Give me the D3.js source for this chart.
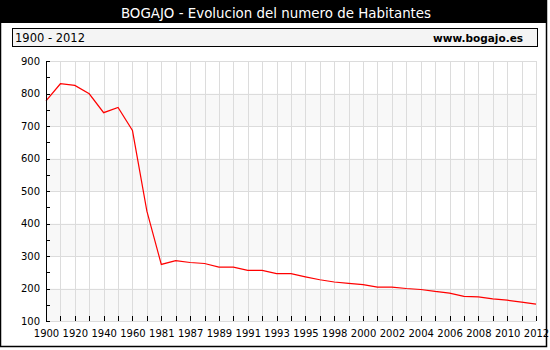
<!DOCTYPE html>
<html>
<head>
<meta charset="utf-8">
<script src="https://cdn.jsdelivr.net/npm/d3@7/dist/d3.min.js"></script>
<style>
  html, body { margin: 0; padding: 0; background: #fff; }
  svg { display: block; font-family: "DejaVu Sans", Verdana, sans-serif; }
</style>
</head>
<body>
<svg id="chart" width="550" height="350"></svg>
<script>
// Census years (categories) and inhabitants per year
const years = ["1900","1910","1920","1930","1940","1950","1960","1970","1981","1986",
  "1987","1988","1989","1990","1991","1992","1993","1994","1995","1996",
  "1998","1999","2000","2001","2002","2003","2004","2005","2006","2007",
  "2008","2009","2010","2011","2012"];
const inhabitants = [777, 830, 825, 799, 741, 757, 686, 438, 274, 286,
  280, 277, 266, 266, 256, 256, 246, 246, 236, 227,
  220, 216, 212, 204, 204, 200, 197, 191, 186, 176,
  174, 168, 164, 158, 152];
const yTicks = [100, 200, 300, 400, 500, 600, 700, 800, 900];
const yMinorTicks = [150, 250, 350, 450, 550, 650, 750, 850];

const titleText = "BOGAJO - Evolucion del numero de Habitantes";
const periodText = "1900 - 2012";
const siteText = "www.bogajo.es";

const svg = d3.select("#chart");
const W = 547, H = 347;
const plot = { left: 46, right: 536, top: 61, bottom: 321 };

// outer frame
svg.append("rect").attr("x", 0.5).attr("y", 0.5).attr("width", W - 1).attr("height", H - 1)
  .attr("fill", "#fff").attr("stroke", "#000").attr("stroke-width", 1.5);

// title bar
svg.append("rect").attr("x", 0).attr("y", 0).attr("width", W).attr("height", 23).attr("fill", "#000");
svg.append("text").attr("x", 276).attr("y", 17.5).attr("text-anchor", "middle")
  .attr("fill", "#fff").attr("font-size", 13.4).text(titleText);

// subtitle box
svg.append("rect").attr("x", 12.5).attr("y", 28.5).attr("width", 525).attr("height", 18)
  .attr("fill", "#f4f4f4").attr("stroke", "#000").attr("stroke-width", 1);
svg.append("text").attr("x", 15).attr("y", 41.5).attr("font-size", 11.5).attr("fill", "#000").text(periodText);
svg.append("text").attr("x", 523).attr("y", 41.5).attr("text-anchor", "end").attr("font-size", 10.5)
  .attr("font-weight", "bold").attr("fill", "#000").text(siteText);

const x = d3.scalePoint().domain(years).range([plot.left, plot.right]);
const y = d3.scaleLinear().domain([100, 900]).range([plot.bottom, plot.top]);

// alternating background bands
const bands = yTicks.slice(0, -1).filter((d, i) => i % 2 === 0);
svg.append("g").selectAll("rect").data(bands).join("rect")
  .attr("x", plot.left).attr("width", plot.right - plot.left)
  .attr("y", d => y(d + 100)).attr("height", d => y(d) - y(d + 100))
  .attr("fill", "#f8f8f8");

// grid
const grid = svg.append("g").attr("stroke", "#dcdcdc").attr("stroke-width", 1).attr("shape-rendering", "crispEdges");
grid.selectAll("line.h").data(yTicks).join("line").attr("class", "h")
  .attr("x1", plot.left).attr("x2", plot.right)
  .attr("y1", d => Math.round(y(d)) + 0.5).attr("y2", d => Math.round(y(d)) + 0.5);
grid.selectAll("line.v").data(years).join("line").attr("class", "v")
  .attr("y1", plot.top).attr("y2", plot.bottom)
  .attr("x1", d => Math.round(x(d)) + 0.5).attr("x2", d => Math.round(x(d)) + 0.5);

// population line
const line = d3.line().x((d, i) => x(years[i])).y(d => y(d));
svg.append("path").datum(inhabitants).attr("d", line)
  .attr("fill", "none").attr("stroke", "#ff0000").attr("stroke-width", 1.2);

// y axis: major ticks with labels, minor ticks without
const yAxis = svg.append("g").attr("transform", `translate(${plot.left},0)`)
  .call(d3.axisLeft(y).tickValues(yTicks).tickSize(-4).tickPadding(6).tickFormat(d3.format("d")));
svg.append("g").attr("transform", `translate(${plot.left},0)`)
  .call(d3.axisLeft(y).tickValues(yMinorTicks).tickSize(-4).tickFormat(""))
  .call(g => g.select(".domain").remove());

// x axis: tick on every year, label on every second one
const xAxis = svg.append("g").attr("transform", `translate(0,${plot.bottom})`)
  .call(d3.axisBottom(x).tickSize(-5).tickPadding(9)
    .tickFormat((d, i) => i % 2 === 0 ? d : ""));

svg.selectAll(".tick line, .domain").attr("stroke", "#000").attr("shape-rendering", "crispEdges");
svg.selectAll(".tick text").attr("font-family", "DejaVu Sans, Verdana, sans-serif")
  .attr("font-size", 10).attr("fill", "#000");
yAxis.select(".domain").attr("d", `M0.5,${plot.top}V${plot.bottom}`);
xAxis.select(".domain").attr("d", `M${plot.left},${plot.bottom + 0.5}H${plot.right}`);
</script>
</body>
</html>
